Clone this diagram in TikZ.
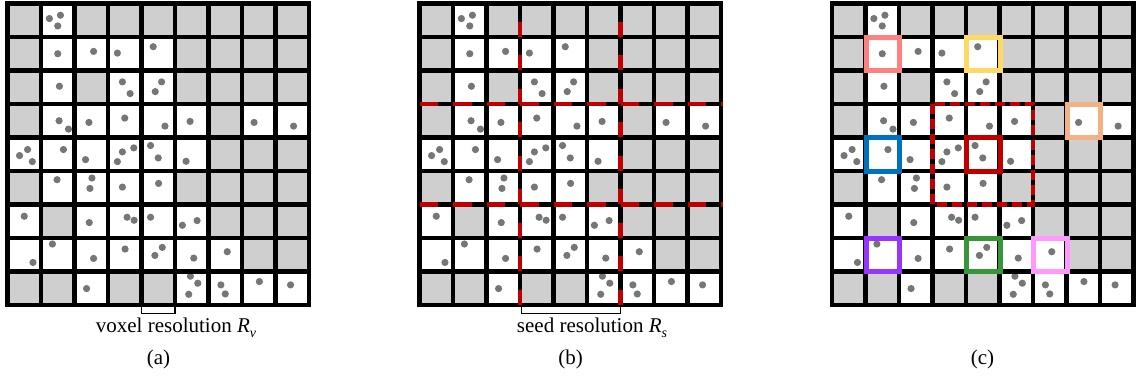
\documentclass[tikz,border=0pt]{standalone}
\usepackage{fontspec}
\setmainfont{Liberation Serif}
\definecolor{cellgray}{RGB}{208,207,208}
\definecolor{dotgray}{RGB}{118,118,118}
\definecolor{seedred}{RGB}{192,0,0}
\definecolor{bxpink}{RGB}{255,128,128}
\definecolor{bxyellow}{RGB}{255,217,102}
\definecolor{bxorange}{RGB}{244,177,131}
\definecolor{bxblue}{RGB}{0,112,192}
\definecolor{bxred}{RGB}{192,0,0}
\definecolor{bxpurple}{RGB}{153,51,255}
\definecolor{bxgreen}{RGB}{55,150,55}
\definecolor{bxviolet}{RGB}{255,153,255}
\tikzset{
  gridline/.style={line width=4.6pt, black, line cap=rect},
  framebox/.style={line width=4.6pt, black, line join=miter},
  vdash/.style={line width=4.4pt, seedred, line cap=butt, dash pattern=on 15pt off 18.5pt, dash phase=15.1pt},
  hdash/.style={line width=4.4pt, seedred, line cap=butt, dash pattern=on 18.5pt off 15pt},
  sqdash/.style={line width=4.6pt, seedred, line cap=butt, dash pattern=on 10pt off 5pt},
  selbox/.style={line width=5pt, line join=miter},
  bracketline/.style={line width=1.4pt, black},
  lbl/.style={font=\fontsize{21}{25}\selectfont, inner sep=0pt, anchor=base},
}
\def\p{33.5}
\newcommand\voxgrid[1]{%
  \begin{scope}[shift={(#1,3.5)}]
    \fill[cellgray] (0,0) rectangle ({9*\p},{9*\p});
    \foreach \r/\cols in {0/{1},1/{1,2,3,4},2/{1,3,4},3/{1,2,3,4,5,7,8},4/{0,1,2,3,4,5},5/{1,2,3,4},6/{0,2,3,4,5},7/{0,1,2,3,4,5,6},8/{2,5,6,7,8}}
      \foreach \c in \cols
        \fill[white] ({\c*\p},{\r*\p}) rectangle ++(\p,\p);
    \foreach \c/\r/\u/\v in {
      1/0/0.25/0.45, 1/0/0.58/0.35, 1/0/0.50/0.67,
      1/1/0.50/0.50, 2/1/0.57/0.43, 3/1/0.28/0.48, 4/1/0.35/0.29,
      1/2/0.55/0.47, 3/2/0.43/0.34, 3/2/0.66/0.69, 4/2/0.60/0.34, 4/2/0.41/0.63,
      1/3/0.54/0.50, 1/3/0.82/0.75, 2/3/0.43/0.55, 3/3/0.50/0.42, 4/3/0.70/0.66, 5/3/0.45/0.52, 7/3/0.36/0.55, 8/3/0.54/0.66,
      0/4/0.36/0.54, 0/4/0.60/0.36, 0/4/0.74/0.72, 1/4/0.67/0.36, 2/4/0.33/0.66, 3/4/0.43/0.43, 3/4/0.77/0.31, 3/4/0.28/0.72, 4/4/0.27/0.24, 4/4/0.50/0.61, 5/4/0.33/0.71,
      1/5/0.48/0.26, 2/5/0.52/0.21, 2/5/0.46/0.52, 3/5/0.43/0.48, 4/5/0.51/0.37,
      0/6/0.50/0.35, 2/6/0.44/0.54, 3/6/0.57/0.38, 3/6/0.78/0.47, 4/6/0.27/0.38, 5/6/0.22/0.62, 5/6/0.66/0.48,
      0/7/0.76/0.73, 1/7/0.34/0.18, 2/7/0.57/0.61, 3/7/0.51/0.33, 4/7/0.62/0.28, 4/7/0.40/0.52, 5/7/0.56/0.60, 6/7/0.56/0.41,
      2/8/0.36/0.51, 5/8/0.46/0.14, 5/8/0.68/0.35, 5/8/0.41/0.68, 6/8/0.37/0.40, 6/8/0.50/0.67, 7/8/0.52/0.30, 8/8/0.45/0.40}
      \fill[dotgray] ({(\c+\u)*\p},{(\r+\v)*\p}) circle[radius=3.6pt];
    \foreach \i in {1,...,8} {
      \draw[gridline] ({\i*\p},0) -- ({\i*\p},{9*\p});
      \draw[gridline] (0,{\i*\p}) -- ({9*\p},{\i*\p});
    }
    \draw[framebox] (0,0) rectangle ({9*\p},{9*\p});
  \end{scope}}
\begin{document}
\begin{tikzpicture}[x=1pt,y=-1pt]
\useasboundingbox (0,0) rectangle (1140,387);
% (a)
\voxgrid{7.5}
% (b)
\voxgrid{419.5}
\begin{scope}[shift={(419.5,3.5)}]
  \foreach \i in {3,6} {
    \draw[vdash] ({\i*\p},0) -- ({\i*\p},{9*\p});
    \draw[hdash] (0,{\i*\p}) -- ({9*\p+2},{\i*\p});
  }
\end{scope}
% (c)
\voxgrid{832}
\begin{scope}[shift={(832,3.5)}]
  \draw[sqdash] ({3*\p},{3*\p}) rectangle ({6*\p},{6*\p});
  \foreach \c/\r/\col in {1/1/bxpink, 4/1/bxyellow, 7/3/bxorange, 1/4/bxblue, 4/4/bxred, 1/7/bxpurple, 4/7/bxgreen, 6/7/bxviolet}
    \draw[selbox, \col] ({\c*\p+0.6},{\r*\p+0.3}) rectangle ({(\c+1)*\p+0.6},{(\r+1)*\p+0.3});
\end{scope}
% brackets
\coordinate (a1) at ({7.5+4*\p},306);
\coordinate (a2) at ({7.5+5*\p},306);
\draw[bracketline] (a1) -- ++(0,7.5) -| (a2);
\coordinate (b1) at ({419.5+3*\p+1.5},306);
\coordinate (b2) at ({419.5+6*\p},306);
\draw[bracketline] (b1) -- ++(0,7.5) -| (b2);
% labels
\node[lbl] (lv) at (176,332) {voxel resolution \textit{R}\raisebox{-0.28em}{\fontsize{14}{14}\selectfont\itshape v}};
\node[lbl] (ls) at (592,332) {seed resolution \textit{R}\raisebox{-0.28em}{\fontsize{14}{14}\selectfont\itshape s}};
\node[lbl] (capa) at (158.5,364) {(a)};
\node[lbl] (capb) at (570.5,364) {(b)};
\node[lbl] (capc) at (982.5,364) {(c)};
\end{tikzpicture}
\end{document}
